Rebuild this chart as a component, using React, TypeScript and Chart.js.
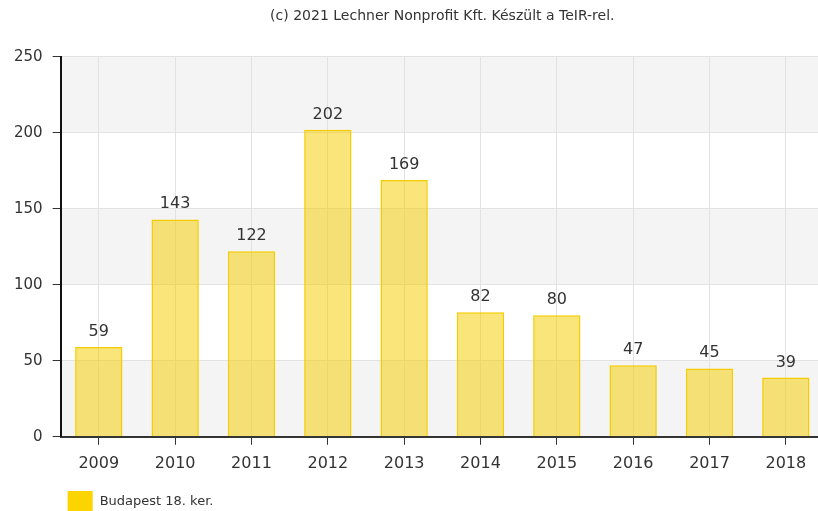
import React, { useEffect, useRef } from "react";
import { Chart, registerables } from "chart.js";

Chart.register(...registerables);

const categories = ["2009", "2010", "2011", "2012", "2013", "2014", "2015", "2016", "2017", "2018"];
const values = [59, 143, 122, 202, 169, 82, 80, 47, 45, 39];
const seriesName = "Budapest 18. ker.";
const titleText = "(c) 2021 Lechner Nonprofit Kft. Készült a TeIR-rel.";
const yTicks = [0, 50, 100, 150, 200, 250];

const FONT = "'DejaVu Sans', Verdana, sans-serif";
const LEGEND_COLOR = "#fcd400";

const bandsPlugin = {
  id: "bands",
  beforeDraw(chart: any) {
    const { ctx, chartArea } = chart;
    const y = chart.scales.y;
    ctx.save();
    ctx.fillStyle = "#f4f4f4";
    for (let i = 0; i < yTicks.length - 1; i += 2) {
      const top = y.getPixelForValue(yTicks[i + 1]);
      const bottom = y.getPixelForValue(yTicks[i]);
      ctx.fillRect(chartArea.left, top, chartArea.right - chartArea.left, bottom - top);
    }
    ctx.restore();
  },
};

const labelsPlugin = {
  id: "valueLabels",
  afterDatasetsDraw(chart: any) {
    const { ctx } = chart;
    const meta = chart.getDatasetMeta(0);
    ctx.save();
    ctx.font = `16px ${FONT}`;
    ctx.fillStyle = "#333333";
    ctx.textAlign = "center";
    ctx.textBaseline = "alphabetic";
    meta.data.forEach((el: any, i: number) => {
      ctx.fillText(String(values[i]), el.x, el.y - 11);
    });
    ctx.restore();
  },
};

const legendPlugin = {
  id: "bottomLegend",
  afterDraw(chart: any) {
    const { ctx, chartArea } = chart;
    const x = chartArea.left + 7;
    const y = 491;
    ctx.save();
    ctx.fillStyle = LEGEND_COLOR;
    ctx.fillRect(x, y, 25, 20);
    ctx.font = `13px ${FONT}`;
    ctx.fillStyle = "#333333";
    ctx.textAlign = "left";
    ctx.textBaseline = "middle";
    ctx.fillText(seriesName, x + 32, y + 11);
    ctx.restore();
  },
};

export default function App() {
  const ref = useRef<HTMLCanvasElement>(null);
  useEffect(() => {
    document.body.style.margin = "0";
    document.body.style.overflow = "hidden";
    const chart = new Chart(ref.current!, {
      type: "bar",
      data: {
        labels: categories,
        datasets: [
          {
            label: seriesName,
            data: values,
            backgroundColor: "rgba(243,206,0,0.52)",
            borderColor: "#f5cc00",
            borderWidth: 1.5,
            categoryPercentage: 1,
            barPercentage: 0.62,
          },
        ],
      },
      options: {
        animation: false,
        responsive: false,
        layout: { padding: { left: 4, right: 4, top: 0, bottom: 29 } },
        plugins: {
          title: {
            display: true,
            text: titleText,
            fullSize: false,
            color: "#333333",
            font: { family: FONT, size: 14, weight: "normal" },
            padding: { top: 8, bottom: 32 },
          },
          legend: { display: false },
          tooltip: { enabled: false },
        },
        scales: {
          x: {
            grid: {
              offset: false,
              color: "#e2e2e2",
              tickColor: "#333333",
              tickLength: 8,
              drawTicks: true,
            },
            border: { color: "#333333", width: 2 },
            ticks: {
              color: "#333333",
              font: { family: FONT, size: 16 },
              padding: 9,
            },
          },
          y: {
            min: 0,
            max: 250,
            grid: {
              color: "#e2e2e2",
              tickColor: "#333333",
              tickLength: 8,
            },
            border: { color: "#111111", width: 2 },
            ticks: {
              stepSize: 50,
              color: "#333333",
              font: { family: FONT, size: 15 },
              padding: 10,
            },
          },
        },
      },
      plugins: [bandsPlugin, labelsPlugin, legendPlugin],
    });
    return () => chart.destroy();
  }, []);
  return (
    <div style={{ width: 818, height: 511, overflow: "hidden" }}>
      <canvas ref={ref} width={828} height={511} style={{ display: "block" }} />
    </div>
  );
}
